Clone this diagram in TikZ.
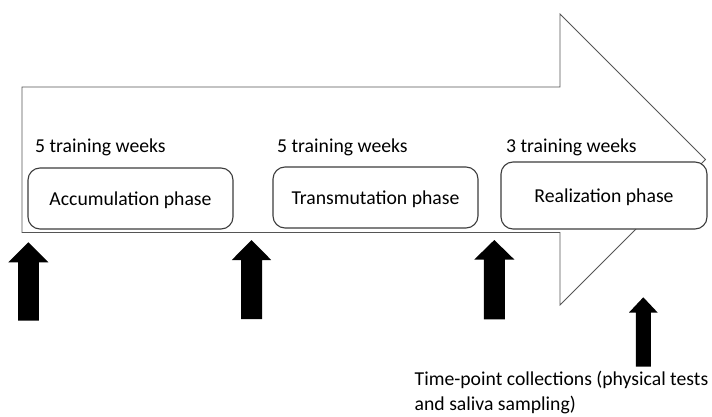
\documentclass[tikz,border=0pt]{standalone}
\usepackage{fontspec}
\setmainfont{Carlito}
\definecolor{outline}{RGB}{85,85,85}
\definecolor{boxline}{RGB}{60,60,60}
\newcommand{\upblock}[6]{% tip x, tip y, head half, shaft half, head base y, bottom y
  \fill[black] (#1-#4,#6) -- (#1-#4,#5) -- (#1-#3,#5) -- (#1,#2) -- (#1+#3,#5) -- (#1+#4,#5) -- (#1+#4,#6) -- cycle;}
\begin{document}
\begin{tikzpicture}[x=1pt,y=-1pt,
  txt/.style={font=\fontsize{19.7}{25}\selectfont, inner sep=0pt},
  phasebox/.style={draw=boxline, line width=1.1pt, rounded corners=12pt, fill=white,
    font=\fontsize{19.7}{25}\selectfont, text height=14pt, text depth=0pt, inner sep=0pt,
    minimum width=205pt, minimum height=61pt},
  bigarrow/.style={draw=outline, line width=0.8pt, fill=white, line join=miter}]
\useasboundingbox (0,0) rectangle (712,417);
% big timeline arrow
\draw[bigarrow] (22,87) -- (560,87) -- (560,14) -- (705.5,159.5) -- (560,305) -- (560,232.5) -- (22,232.5) -- cycle;
% week labels
\node[txt, anchor=base west] (w1) at (35,152.7) {5 training weeks};
\node[txt, anchor=base west] (w2) at (277,153) {5 training weeks};
\node[txt, anchor=base west] (w3) at (506,152.7) {3 training weeks};
% phase boxes
\node[phasebox] (acc) at (130.5,198.5) {Accumulation phase};
\node[phasebox] (trans) at (375.5,197.5) {Transmutation phase};
\node[phasebox, minimum width=206pt, minimum height=67pt] (real) at (604,195.5) {Realization phase};
% time-point arrows
\upblock{28.4}{242.3}{20}{10.4}{262.3}{320.7}
\upblock{251.5}{240}{19.7}{10.5}{260}{319}
\upblock{494.3}{240}{20}{10.5}{259.5}{319.3}
\upblock{643.3}{297.3}{14.3}{7.5}{312.5}{366.7}
% caption
\node[txt, anchor=north west, align=left] (cap) at (414.5,370.5) {Time-point collections (physical tests\\and saliva sampling)};
\end{tikzpicture}
\end{document}
